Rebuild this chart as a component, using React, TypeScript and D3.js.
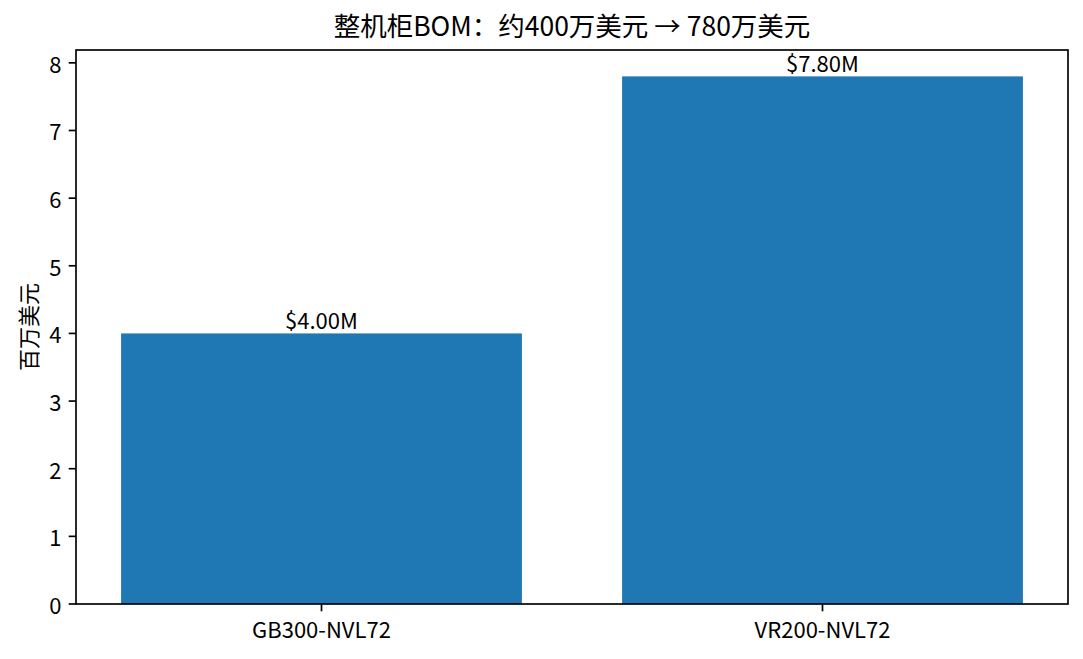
import { useEffect, useRef } from 'react';
import * as d3 from 'd3';

const categories = ['GB300-NVL72', 'VR200-NVL72'];
const values = [4.0, 7.8];
const valueLabels = ['$4.00M', '$7.80M'];
const yTicks = [0, 1, 2, 3, 4, 5, 6, 7, 8];
const title = '整机柜BOM：约400万美元 → 780万美元';
const yTitle = '百万美元';

const W = 1083, H = 659;
const FONT = '"Noto Sans CJK SC", "Noto Sans", sans-serif';
const FS = '22px';

export default function App() {
  const svgRef = useRef<SVGSVGElement>(null);

  useEffect(() => {
    if (!svgRef.current) return;
    const svg = d3.select(svgRef.current);
    svg.selectAll('*').remove();

    const m = { t: 50, r: 15, b: 55, l: 76 };
    const iw = W - m.l - m.r, ih = H - m.t - m.b;

    const n = categories.length;
    const bw = 0.8;
    const x = d3.scaleLinear().domain([-0.49, n - 1 + 0.49]).range([0, iw]);
    const y = d3.scaleLinear().domain([0, d3.max(values)! * 1.05]).range([ih, 0]);

    svg.append('rect').attr('width', W).attr('height', H).attr('fill', '#fff');
    const g = svg.append('g').attr('transform', `translate(${m.l},${m.t})`);

    // bars
    g.selectAll('rect.bar').data(values).enter().append('rect')
      .attr('x', (_, i) => x(i - bw / 2)).attr('width', x(bw) - x(0))
      .attr('y', d => y(d)).attr('height', d => y(0) - y(d))
      .attr('fill', '#1f77b4');

    // value labels
    g.selectAll('text.val').data(values).enter().append('text')
      .attr('x', (_, i) => x(i)).attr('y', d => y(d) - 4)
      .attr('text-anchor', 'middle').attr('font-size', FS).attr('font-family', FONT)
      .attr('fill', '#000').text((_, i) => valueLabels[i]);

    // frame
    g.append('rect').attr('width', iw).attr('height', ih)
      .attr('fill', 'none').attr('stroke', '#000').attr('stroke-width', 1.67);

    // y ticks
    yTicks.forEach(v => {
      g.append('line').attr('x1', -7.3).attr('x2', 0).attr('y1', y(v)).attr('y2', y(v))
        .attr('stroke', '#000').attr('stroke-width', 1.67);
      g.append('text').attr('x', -14.6).attr('y', y(v)).attr('text-anchor', 'end')
        .attr('dominant-baseline', 'central').attr('font-size', FS).attr('font-family', FONT)
        .attr('fill', '#000').text(v);
    });

    // x ticks
    categories.forEach((c, i) => {
      g.append('line').attr('x1', x(i)).attr('x2', x(i)).attr('y1', ih).attr('y2', ih + 7.3)
        .attr('stroke', '#000').attr('stroke-width', 1.67);
      g.append('text').attr('x', x(i)).attr('y', ih + 34).attr('text-anchor', 'middle')
        .attr('font-size', FS).attr('font-family', FONT).attr('fill', '#000').text(c);
    });

    // y axis title
    svg.append('text').attr('transform', `translate(37,${m.t + ih / 2}) rotate(-90)`)
      .attr('text-anchor', 'middle').attr('font-size', FS).attr('font-family', FONT)
      .attr('fill', '#000').text(yTitle);

    // title
    svg.append('text').attr('x', m.l + iw / 2).attr('y', 36).attr('text-anchor', 'middle')
      .attr('font-size', '26.5px').attr('font-family', FONT).attr('fill', '#000').text(title);
  }, []);

  return (
    <svg ref={svgRef} width={W} height={H} viewBox={`0 0 ${W} ${H}`}
      style={{ position: 'absolute', left: 0, top: 0, display: 'block' }} />
  );
}
